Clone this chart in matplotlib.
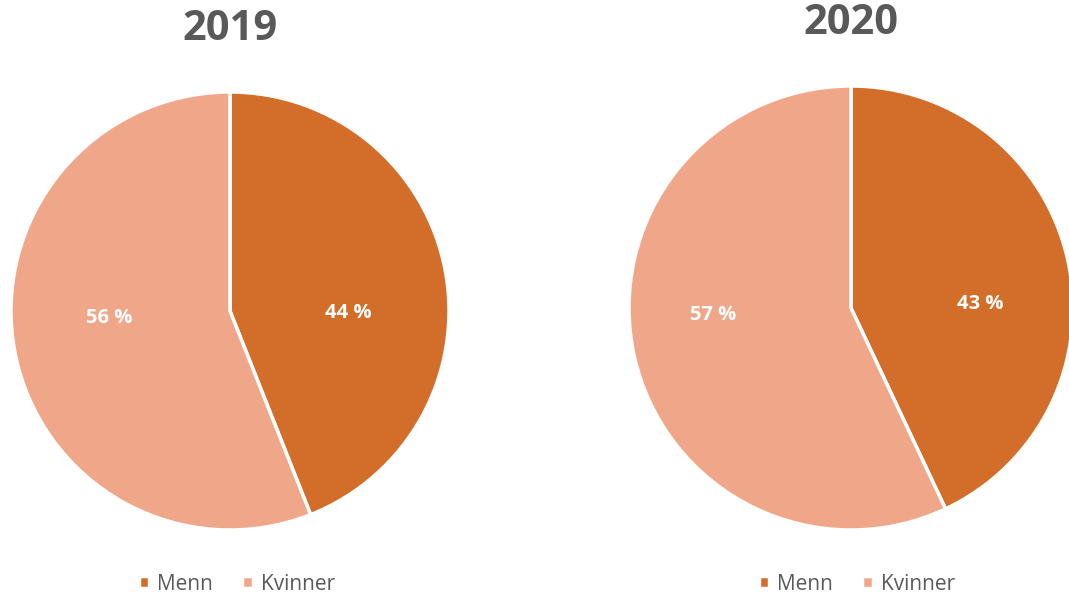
import matplotlib.pyplot as plt

years = ['2019', '2020']
labels = ['Menn', 'Kvinner']
shares = [[44, 56], [43, 57]]
colors = ['#D36E2A', '#F0A789']

W, H = 1069, 598
fig = plt.figure(figsize=(W / 100, H / 100), dpi=100)

# pie centers / radius in pixels, title y, legend center, label positions (in radius units)
layout = [
    dict(cx=230, cy=311, r=219, ty=29, lx=237, lab=[(0.54, -0.01), (-0.55, -0.03)]),
    dict(cx=851, cy=308, r=222, ty=23, lx=857, lab=[(0.58, 0.02), (-0.62, -0.03)]),
]

for year, vals, lay in zip(years, shares, layout):
    r = lay['r']
    ax = fig.add_axes([(lay['cx'] - r) / W, 1 - (lay['cy'] + r) / H, 2 * r / W, 2 * r / H])
    wedges, texts = ax.pie(vals, colors=colors, startangle=90, counterclock=False,
                           wedgeprops=dict(edgecolor='white', linewidth=2.5),
                           labels=[f'{v} %' for v in vals], labeldistance=0.56)
    for t, pos in zip(texts, lay['lab']):
        t.set_position(pos)
        t.set_color('white')
        t.set_fontsize(14.5)
        t.set_fontweight('bold')
        t.set_family('Open Sans')
        t.set_ha('center')
        t.set_va('center')
    ax.set_xlim(-1, 1)
    ax.set_ylim(-1, 1)
    ax.set_aspect('equal')
    fig.text(lay['cx'] / W, 1 - lay['ty'] / H, year, ha='center', va='center',
             fontsize=30, fontweight='bold', color='#595959', family='Open Sans')
    fig.legend(wedges, labels, loc='center', bbox_to_anchor=(lay['lx'] / W, 1 - 584 / H),
               ncol=2, frameon=False, handlelength=0.5, handleheight=0.5,
               handletextpad=0.4, columnspacing=1.4,
               prop=dict(family='Open Sans', size=15), labelcolor='#595959')

fig.savefig('out.png', dpi=100)
